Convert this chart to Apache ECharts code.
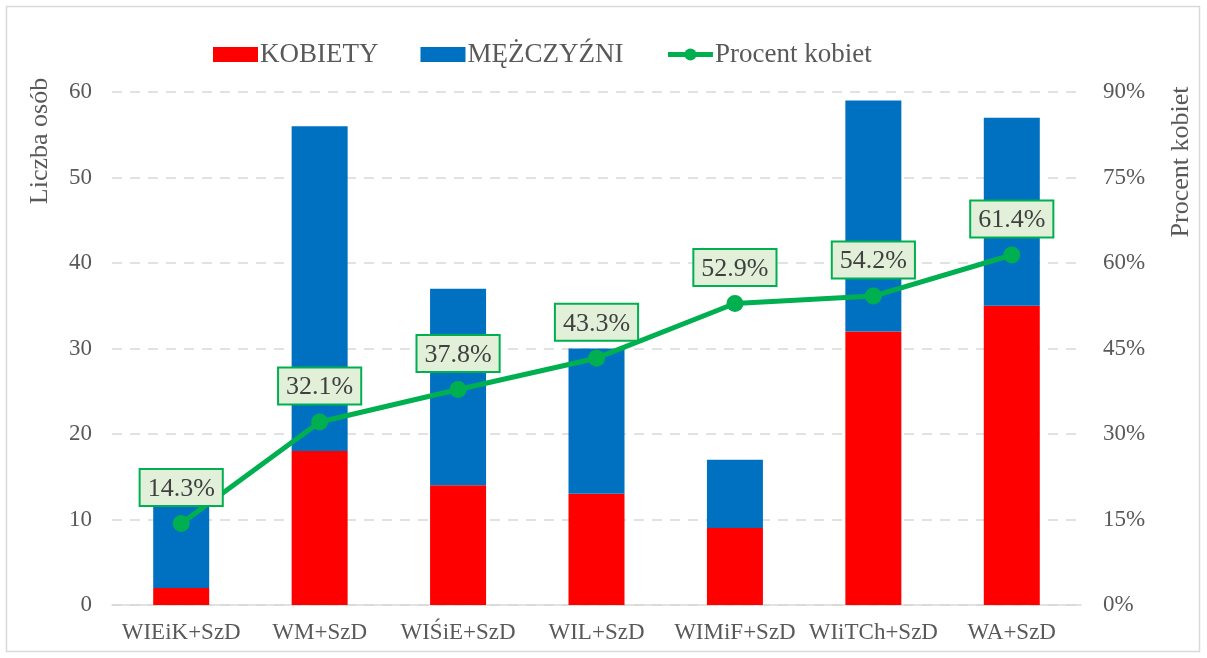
<!DOCTYPE html>
<html>
<head>
<meta charset="utf-8">
<script src="https://cdn.jsdelivr.net/npm/echarts@6/dist/echarts.min.js"></script>
<style>
  html, body { margin: 0; padding: 0; background: #fff; }
  #chart { width: 1207px; height: 658px; }
</style>
</head>
<body>
<div id="chart"></div>
<script>
const categories = ["WIEiK+SzD", "WM+SzD", "WIŚiE+SzD", "WIL+SzD", "WIMiF+SzD", "WIiTCh+SzD", "WA+SzD"];
const kobiety = [2, 18, 14, 13, 9, 32, 35];
const mezczyzni = [12, 38, 23, 17, 8, 27, 22];
const procentKobiet = [14.3, 32.1, 37.8, 43.3, 52.9, 54.2, 61.4];

const font = "Liberation Serif";
const grey = "#595959";

const chart = echarts.init(document.getElementById("chart"));
chart.setOption({
  textStyle: { fontFamily: font },
  animation: false,
  graphic: [
    {
      type: "rect",
      shape: { x: 6.5, y: 6.5, width: 1193, height: 645 },
      style: { fill: "none", stroke: "#d9d9d9", lineWidth: 1.5 },
      silent: true
    },
    // axis titles sit near the top like in the original
    {
      type: "text",
      x: 40, y: 141,
      rotation: Math.PI / 2,
      style: { text: "Liczba osób", font: "26px 'Liberation Serif'", fill: grey, align: "center", verticalAlign: "middle" }
    },
    {
      type: "text",
      x: 1181, y: 162,
      rotation: Math.PI / 2,
      style: { text: "Procent kobiet", font: "26px 'Liberation Serif'", fill: grey, align: "center", verticalAlign: "middle" }
    }
  ],
  legend: {
    top: 36,
    left: 208,
    itemWidth: 45,
    itemHeight: 15,
    itemGap: 42,
    textStyle: { fontFamily: font, fontSize: 27, color: grey, padding: [0, 0, 0, -3] },
    data: [
      { name: "KOBIETY", icon: "rect" },
      { name: "MĘŻCZYŹNI", icon: "rect" },
      { name: "Procent kobiet", lineStyle: { width: 5 } }
    ]
  },
  grid: { left: 112, right: 126, top: 92, bottom: 53 },
  xAxis: {
    type: "category",
    data: categories,
    axisLine: { lineStyle: { color: "#d9d9d9", width: 1.5 } },
    axisTick: { show: false },
    axisLabel: { interval: 0, fontFamily: font, fontSize: 23, color: grey, margin: 16 }
  },
  yAxis: [
    {
      type: "value",
      min: 0, max: 60, interval: 10,
      axisLabel: { fontFamily: font, fontSize: 23, color: grey, margin: 20 },
      splitLine: { lineStyle: { color: "#d9d9d9", type: [10, 8], width: 1.5 } }
    },
    {
      type: "value",
      min: 0, max: 90, interval: 15,
      axisLabel: { fontFamily: font, fontSize: 23, color: grey, margin: 22, formatter: "{value}%" },
      splitLine: { show: false }
    }
  ],
  series: [
    {
      name: "KOBIETY",
      type: "bar",
      stack: "osoby",
      data: kobiety,
      barWidth: 56,
      itemStyle: { color: "#FF0000" }
    },
    {
      name: "MĘŻCZYŹNI",
      type: "bar",
      stack: "osoby",
      data: mezczyzni,
      barWidth: 56,
      itemStyle: { color: "#0070C0" }
    },
    {
      name: "Procent kobiet",
      type: "line",
      yAxisIndex: 1,
      data: procentKobiet,
      symbol: "circle",
      symbolSize: 17,
      lineStyle: { color: "#00B050", width: 5 },
      itemStyle: { color: "#00B050" },
      label: {
        show: true,
        position: "top",
        distance: 10,
        formatter: p => p.value.toFixed(1) + "%",
        fontFamily: font,
        fontSize: 26,
        color: "#404040",
        backgroundColor: "#E2F0D9",
        borderColor: "#00B050",
        borderWidth: 2,
        padding: [6, 7, 3, 7]
      }
    }
  ]
});
</script>
</body>
</html>
